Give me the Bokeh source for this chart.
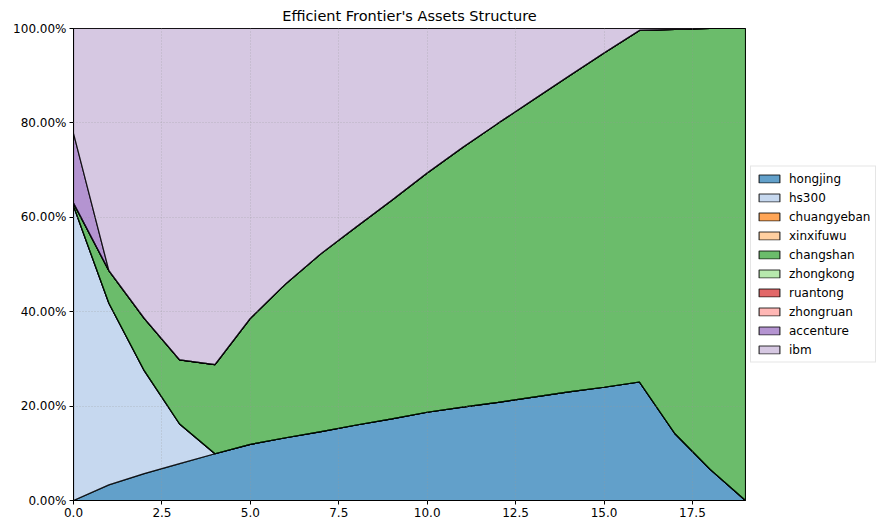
import numpy as np
from bokeh.plotting import figure
from bokeh.models import (FixedTicker, PrintfTickFormatter, NumeralTickFormatter,
                          Legend, LegendItem, Range1d)
from bokeh.embed import file_html
from bokeh.resources import INLINE

x = list(range(20))
names = ["hongjing", "hs300", "chuangyeban", "xinxifuwu", "changshan",
         "zhongkong", "ruantong", "zhongruan", "accenture", "ibm"]
colors = ["#1f77b4", "#aec7e8", "#ff7f0e", "#ffbb78", "#2ca02c",
          "#98df8a", "#d62728", "#ff9896", "#9467bd", "#c5b0d5"]

hongjing = [0.0, 3.3, 5.7, 7.8, 9.9, 11.9, 13.3, 14.6, 16.0, 17.3,
            18.7, 19.8, 20.8, 21.9, 23.0, 24.0, 25.1, 14.2, 6.6, 0.0]
hs300 = [62.4, 38.5, 21.8, 8.4, 0, 0, 0, 0, 0, 0,
         0, 0, 0, 0, 0, 0, 0, 0, 0, 0]
chuangyeban = [0.0] * 20
xinxifuwu = [0.0] * 20
changshan = [0.6, 6.9, 11.1, 13.6, 18.9, 26.7, 32.6, 37.7, 42.0, 46.3,
             50.7, 55.0, 59.1, 63.0, 66.9, 70.8, 74.5, 85.6, 93.4, 100.0]
zhongkong = [0.0] * 20
ruantong = [0.0] * 20
zhongruan = [0.0] * 20
accenture = [14.8, 0, 0, 0, 0, 0, 0, 0, 0, 0,
             0, 0, 0, 0, 0, 0, 0, 0, 0, 0]
ibm = [22.2, 51.3, 61.4, 70.2, 71.2, 61.4, 54.1, 47.7, 42.0, 36.4,
       30.6, 25.2, 20.1, 15.1, 10.1, 5.2, 0.4, 0.2, 0.0, 0.0]

series = [hongjing, hs300, chuangyeban, xinxifuwu, changshan,
          zhongkong, ruantong, zhongruan, accenture, ibm]

x_ticks = [0, 2.5, 5.0, 7.5, 10.0, 12.5, 15.0, 17.5]
y_ticks = [0, 0.2, 0.4, 0.6, 0.8, 1.0]

FONT = "DejaVu Sans"

p = figure(width=874, height=514, output_backend="svg", toolbar_location=None,
           frame_width=672, frame_height=472,
           x_range=Range1d(0, 19), y_range=Range1d(0, 1),
           title="Efficient Frontier's Assets Structure")
p.min_border_left = 73
p.min_border_top = 19
p.min_border_bottom = 23
p.min_border_right = 129

p.title.align = "center"
p.title.text_font = FONT
p.title.text_font_size = "14.5px"
p.title.text_font_style = "normal"
p.title.text_color = "black"

arr = np.array(series, dtype=float) / 100.0
cum = np.cumsum(arr, axis=0)
xs_arr = np.array(x, dtype=float)

items = []
for i, (name, col) in enumerate(zip(names, colors)):
    upper = cum[i]
    lower = cum[i - 1] if i > 0 else np.zeros_like(upper)
    px = np.concatenate([xs_arr, xs_arr[::-1]])
    py = np.concatenate([upper, lower[::-1]])
    r = p.patch(px, py, fill_color=col, fill_alpha=0.7,
                line_color="black", line_alpha=0.8, line_width=1.2)
    items.append(LegendItem(label=name, renderers=[r]))

legend = Legend(items=items, location="center_left")
legend.label_text_font = FONT
legend.label_text_font_size = "12px"
legend.label_text_color = "black"
legend.label_height = 14
legend.glyph_height = 10
legend.glyph_width = 26
legend.spacing = 5
legend.padding = 5
legend.margin = 5
legend.label_standoff = 7
legend.border_line_color = "#cccccc"
legend.border_line_width = 1
legend.background_fill_alpha = 1.0
p.add_layout(legend, "right")

p.xaxis.ticker = FixedTicker(ticks=x_ticks)
p.xaxis.formatter = PrintfTickFormatter(format="%.1f")
p.yaxis.ticker = FixedTicker(ticks=y_ticks)
p.yaxis.formatter = NumeralTickFormatter(format="0.00%")
for ax in (p.xaxis, p.yaxis):
    ax.major_label_text_font = FONT
    ax.major_label_text_font_size = "12px"
    ax.major_label_text_color = "black"
    ax.major_tick_in = 0
    ax.major_tick_out = 4
    ax.minor_tick_line_color = None
    ax.axis_line_color = "black"
    ax.major_tick_line_color = "black"
    ax.major_label_standoff = 3

p.xgrid.ticker = FixedTicker(ticks=x_ticks)
p.ygrid.ticker = FixedTicker(ticks=y_ticks)
for g in (p.xgrid, p.ygrid):
    g.grid_line_color = "#9a9a9a"
    g.grid_line_alpha = 0.6
    g.grid_line_dash = "1 2"
    g.grid_line_width = 0.8
    g.level = "overlay"

p.outline_line_color = "black"
p.outline_line_alpha = 1.0
p.outline_line_width = 1
p.background_fill_color = "white"
p.border_fill_color = "white"

open("out.html", "w").write(file_html(p, INLINE))
